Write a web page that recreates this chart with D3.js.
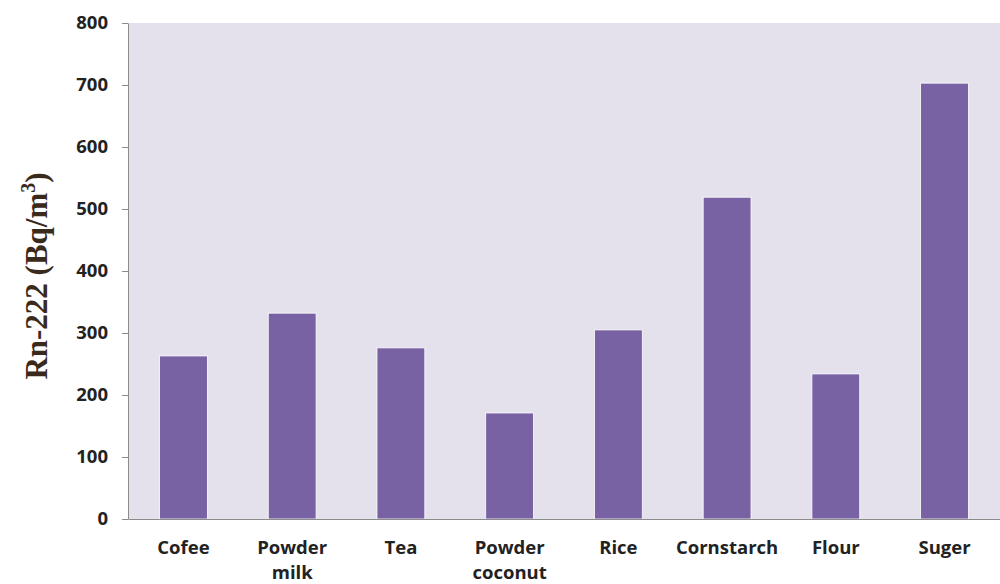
<!DOCTYPE html>
<html><head><meta charset="utf-8">
<script src="https://cdn.jsdelivr.net/npm/d3@7"></script>
<style>body{margin:0;background:#fff}svg{display:block}</style>
</head><body>
<svg id="c" width="1000" height="584"></svg>
<script>
const categories = [["Cofee"],["Powder","milk"],["Tea"],["Powder","coconut"],["Rice"],["Cornstarch"],["Flour"],["Suger"]];
const values = [263, 332, 276, 171, 305, 519, 234, 703];
const yTicks = [0,100,200,300,400,500,600,700,800];

const svg = d3.select("#c");
const m = {l:128, r:1000, t:23, b:519};
const names = categories.map(c=>c.join(" "));
const x = d3.scaleBand().domain(names).range([m.l, m.r]).paddingInner(0.56).paddingOuter(0.29);
const y = d3.scaleLinear().domain([0,800]).range([m.b, m.t]);

svg.append("rect").attr("x",m.l).attr("y",m.t).attr("width",m.r-m.l).attr("height",m.b-m.t).attr("fill","#e4e1ec");

svg.selectAll(".bar").data(values).join("rect")
  .attr("x",(d,i)=>x(names[i])).attr("width",x.bandwidth())
  .attr("y",d=>y(d)).attr("height",d=>y(0)-y(d))
  .attr("fill","#7862a3").attr("stroke","#ffffff").attr("stroke-width",0.8);

const ya = svg.append("g").attr("transform",`translate(${m.l},0)`)
  .call(d3.axisLeft(y).tickValues(yTicks).tickSize(6).tickPadding(14).tickSizeOuter(0));
ya.select(".domain").attr("stroke","#8c8c8c");
ya.selectAll(".tick line").attr("stroke","#8c8c8c");
ya.selectAll("text").attr("font-family","'Open Sans', sans-serif").attr("font-weight","bold")
  .attr("font-size",18.5).attr("fill","#222");

const xa = svg.append("g").attr("transform",`translate(0,${m.b})`)
  .call(d3.axisBottom(x).tickSize(0).tickPadding(0));
xa.select(".domain").attr("stroke","#8c8c8c");
xa.selectAll(".tick text").each(function(d,i){
  const t = d3.select(this); t.text(null);
  t.attr("font-family","'Open Sans', sans-serif").attr("font-weight","bold").attr("font-size",18.5).attr("fill","#222").attr("y",0).attr("dy",null);
  categories[i].forEach((w,k)=>{ t.append("tspan").attr("x",0).attr("y",35+k*25).text(w); });
});

svg.append("text").attr("transform","translate(47,276) rotate(-90)").attr("text-anchor","middle")
  .attr("font-family","'Liberation Serif', serif").attr("font-weight","bold").attr("font-size",31).attr("fill","#3a2a1c")
  .text("Rn-222 (Bq/m").append("tspan").attr("dy",-12).attr("font-size",20).text("3")
  .select(function(){return this.parentNode;}).append("tspan").attr("dy",12).text(")");
</script>
</body></html>
